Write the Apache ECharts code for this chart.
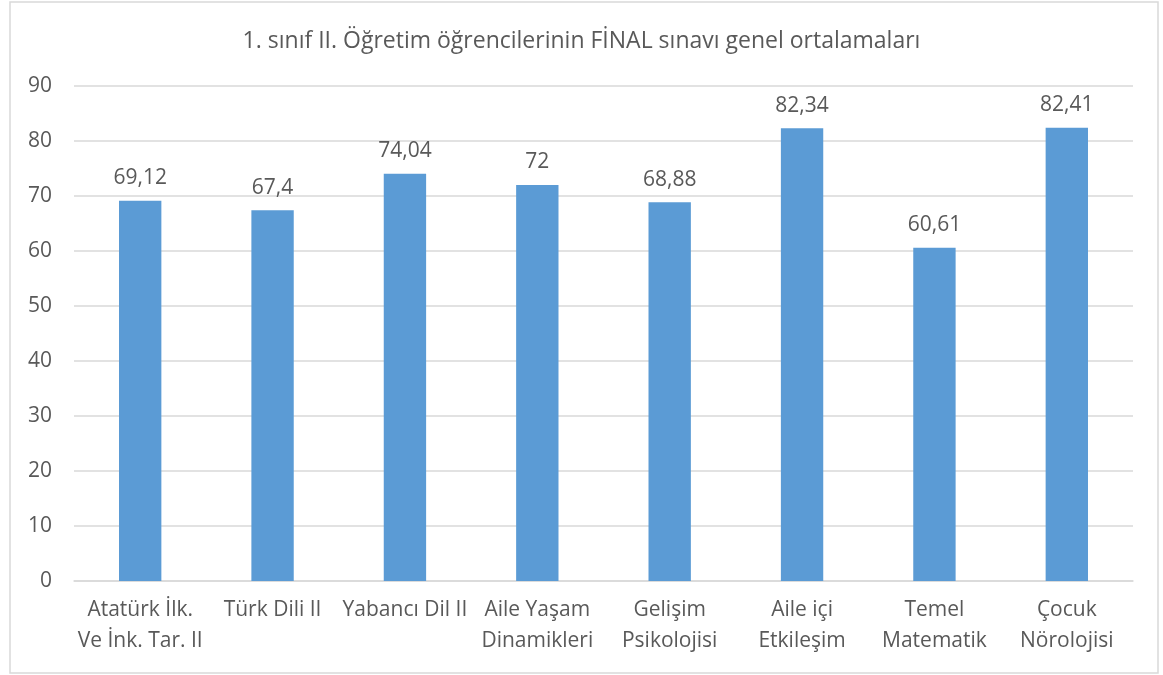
<!DOCTYPE html>
<html>
<head>
<meta charset="utf-8">
<script src="https://cdn.jsdelivr.net/npm/echarts@6/dist/echarts.min.js"></script>
<style>
  html, body { margin: 0; padding: 0; background: #fff; }
  #chart { width: 1163px; height: 675px; }
</style>
</head>
<body>
<div id="chart"></div>
<script>
// ders adlari
const categories = [
  'Atatürk İlk.\nVe İnk. Tar. II',
  'Türk Dili II',
  'Yabancı Dil II',
  'Aile Yaşam\nDinamikleri',
  'Gelişim\nPsikolojisi',
  'Aile içi\nEtkileşim',
  'Temel\nMatematik',
  'Çocuk\nNörolojisi'
];
const averages = [69.12, 67.4, 74.04, 72, 68.88, 82.34, 60.61, 82.41];
const yTicks = [0, 10, 20, 30, 40, 50, 60, 70, 80, 90];

const textColor = '#595959';
const fontName = '"Open Sans", sans-serif';

let chart = echarts.init(document.getElementById('chart'));

chart.setOption({
  backgroundColor: '#fff',
  animation: false,
  title: {
    text: '1. sınıf II. Öğretim öğrencilerinin FİNAL sınavı genel ortalamaları',
    left: 'center',
    top: 25,
    textStyle: { color: textColor, fontSize: 23, fontWeight: 'normal', fontFamily: fontName }
  },
  graphic: [{
    type: 'rect',
    shape: { x: 10, y: 2, width: 1148, height: 671 },
    style: { fill: 'none', stroke: '#d9d9d9', lineWidth: 1.5 },
    silent: true
  }],
  grid: { left: 74, right: 30, top: 86, bottom: 94 },
  xAxis: {
    type: 'category',
    data: categories,
    axisTick: { show: false },
    axisLine: { lineStyle: { color: '#d9d9d9', width: 1.5 } },
    axisLabel: {
      color: textColor, fontSize: 21, fontFamily: fontName,
      lineHeight: 31, margin: 14, interval: 0
    }
  },
  yAxis: {
    type: 'value',
    min: yTicks[0],
    max: yTicks[yTicks.length - 1],
    interval: 10,
    axisLine: { show: false },
    axisTick: { show: false },
    splitLine: { lineStyle: { color: '#d9d9d9', width: 1.5 } },
    axisLabel: { color: textColor, fontSize: 21, fontFamily: fontName, margin: 22 }
  },
  series: [{
    type: 'bar',
    data: averages,
    barWidth: '32%',
    itemStyle: { color: '#5b9bd5' },
    label: {
      show: true,
      position: 'top',
      distance: 12,
      color: textColor,
      fontSize: 21,
      fontFamily: fontName,
      formatter: (p) => String(p.value).replace('.', ',')
    }
  }]
});
</script>
</body>
</html>
